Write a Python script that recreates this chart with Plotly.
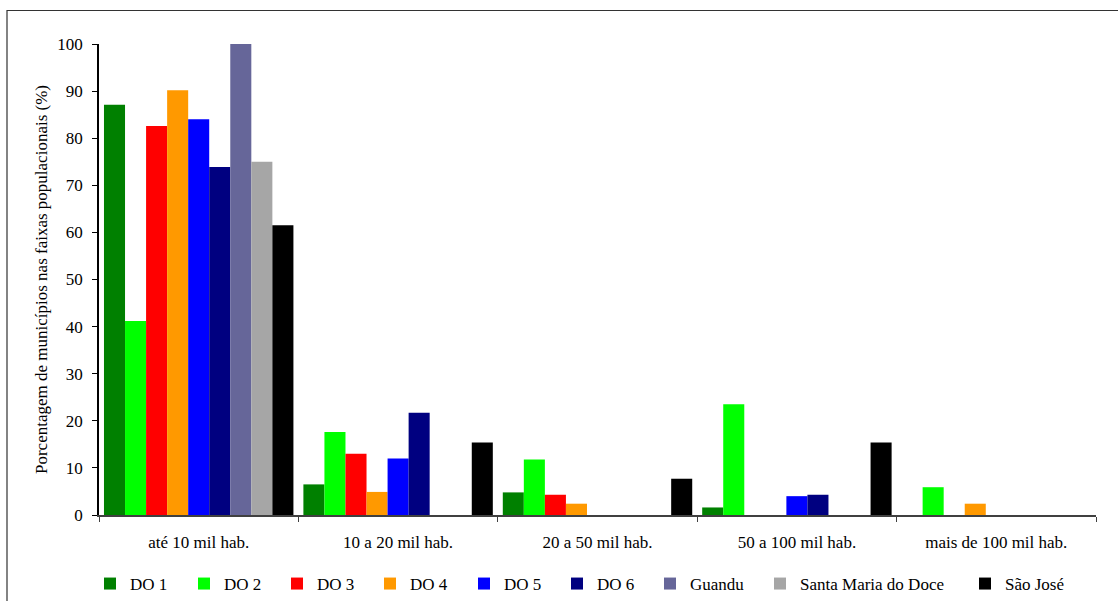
import plotly.graph_objects as go

# Faixas populacionais (categorias do eixo x)
faixas = ["até 10 mil hab.", "10 a 20 mil hab.", "20 a 50 mil hab.",
          "50 a 100 mil hab.", "mais de 100 mil hab."]

# Porcentagem de municípios em cada faixa, por unidade de planejamento
do1 = [87.1, 6.5, 4.8, 1.6, 0]
do2 = [41.2, 17.6, 11.8, 23.5, 5.9]
do3 = [82.6, 13.0, 4.3, 0, 0]
do4 = [90.2, 4.9, 2.4, 0, 2.4]
do5 = [84.0, 12.0, 0, 4.0, 0]
do6 = [73.9, 21.7, 0, 4.3, 0]
guandu = [100.0, 0, 0, 0, 0]
santa_maria = [75.0, 0, 0, 0, 0]
sao_jose = [61.5, 15.4, 7.7, 15.4, 0]

series = [
    ("DO 1", do1, "#008000"),
    ("DO 2", do2, "#00FF00"),
    ("DO 3", do3, "#FF0000"),
    ("DO 4", do4, "#FF9900"),
    ("DO 5", do5, "#0000FF"),
    ("DO 6", do6, "#000080"),
    ("Guandu", guandu, "#666699"),
    ("Santa Maria do Doce", santa_maria, "#A6A6A6"),
    ("São José", sao_jose, "#000000"),
]

y_ticks = list(range(0, 101, 10))

FONT = "Liberation Serif"
FS = 17
W, H = 1118, 601
ML, MR, MT, MB = 99, 22, 44, 86
PW = W - ML - MR
PH = H - MT - MB

# left edge of each legend swatch, in pixels
legend_left_px = [109, 203, 296, 389, 483, 576, 669, 779, 984]

fig = go.Figure()
legend_layouts = {}
for i, (name, vals, color) in enumerate(series):
    lg = "legend" if i == 0 else f"legend{i + 1}"
    fig.add_trace(go.Bar(
        x=faixas, y=vals, name=name,
        marker=dict(color=color, line=dict(width=0)),
        legend=lg,
    ))
    legend_layouts[lg] = dict(
        xref="container", yref="container",
        x=(legend_left_px[i] - 19) / W,
        xanchor="left",
        y=(H - 584) / H,
        yanchor="middle",
        orientation="h",
        bgcolor="rgba(0,0,0,0)",
        borderwidth=0,
        font=dict(family=FONT, size=FS, color="black"),
    )

fig.update_layout(
    width=W, height=H,
    margin=dict(l=ML, r=MR, t=MT, b=MB, autoexpand=False),
    paper_bgcolor="white",
    plot_bgcolor="white",
    barmode="group",
    bargap=0.05,
    bargroupgap=0,
    font=dict(family=FONT, size=FS, color="black"),
    xaxis=dict(
        type="category",
        tickson="boundaries",
        ticks="outside",
        ticklen=5,
        tickcolor="#404040",
        showline=True,
        linecolor="#404040",
        linewidth=1.5,
        showgrid=False,
        ticklabelstandoff=11,
        tickfont=dict(family=FONT, size=FS, color="black"),
    ),
    yaxis=dict(
        range=[0, 100],
        tickvals=y_ticks,
        ticks="outside",
        ticklen=5,
        tickcolor="black",
        showline=True,
        linecolor="black",
        linewidth=1.5,
        showgrid=False,
        zeroline=False,
        ticklabelstandoff=6,
        tickfont=dict(family=FONT, size=FS, color="black"),
        title=dict(text="Porcentagem de municípios nas faixas populacionais (%)",
                   font=dict(family=FONT, size=FS, color="black"),
                   standoff=5),
    ),
    showlegend=True,
    shapes=[dict(
        type="rect", xref="paper", yref="paper",
        x0=(7 - ML) / PW, x1=1.1,
        y0=-0.4, y1=(515 - 10.5) / PH,
        line=dict(color="#333333", width=1.2),
        fillcolor="rgba(0,0,0,0)",
        layer="below",
    )],
    **legend_layouts,
)

fig.write_html("out.html")
